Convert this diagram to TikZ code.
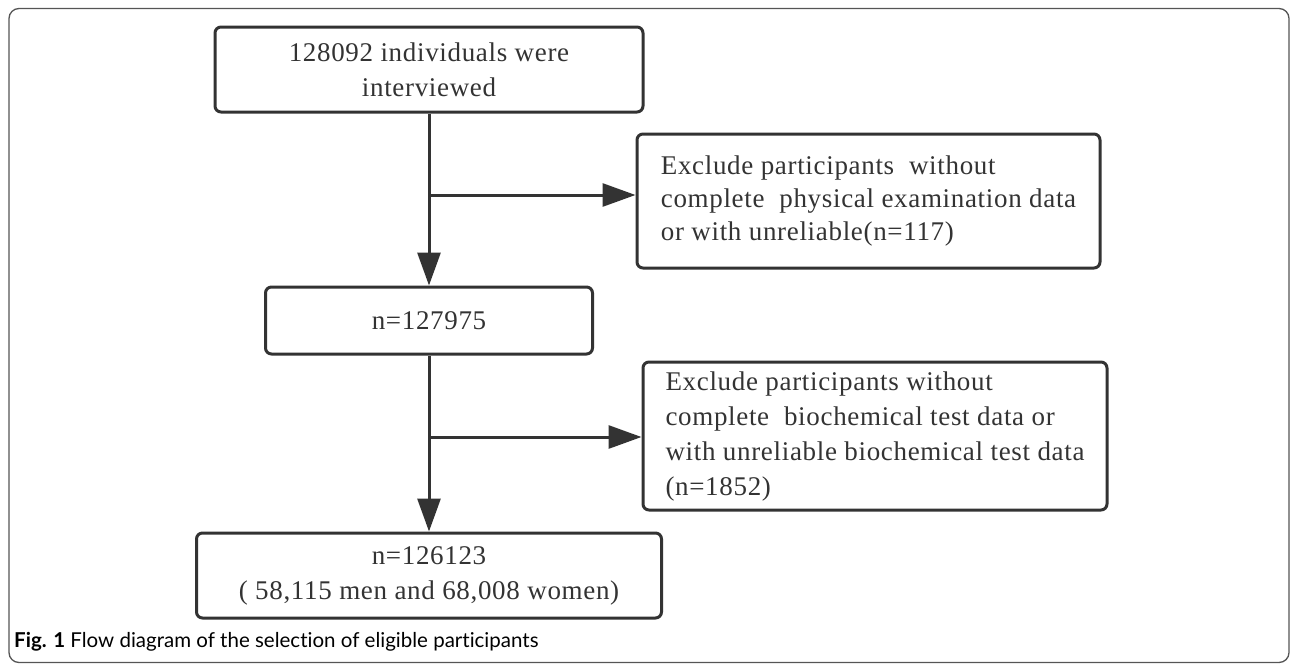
\documentclass[tikz,border=0pt]{standalone}
\usepackage{fontspec}
\setmainfont{Liberation Serif}
\newfontfamily\capfont[Ligatures=NoCommon]{Lato}
\usetikzlibrary{arrows.meta}
\definecolor{ink}{HTML}{333333}
\definecolor{framec}{HTML}{555555}
\begin{document}
\begin{tikzpicture}[x=1pt,y=-1pt,
  box/.style={draw=ink, line width=3pt, rounded corners=6pt, inner sep=0pt, text=ink,
    font=\fontsize{27}{35}\selectfont\addfontfeature{LetterSpace=2.5}},
  arr/.style={draw=ink, line width=3pt, -{Triangle[length=33pt,width=23pt]}}]
\useasboundingbox (0,0) rectangle (1290,664);
\draw[framec, line width=1.3pt, rounded corners=10pt] (9,8.5) rectangle (1289,662.5);
\node[box, minimum width=428pt, minimum height=85pt, align=center] (b1) at (429,69.5)
  {128092 individuals were\\interviewed};
\node[box, minimum width=327pt, minimum height=67pt, align=center] (b2) at (429,320.5)
  {n=127975};
\node[box, minimum width=463pt, minimum height=134pt, align=left,
  font=\fontsize{27}{33}\selectfont\addfontfeature{LetterSpace=2.5}] (b3) at (868.5,201)
  {Exclude participants\ \ without\\complete\ \ physical examination data\\or with unreliable(n=117)};
\node[box, minimum width=464pt, minimum height=148pt, align=left] (b4) at (875,436)
  {Exclude participants without\\complete\ \ biochemical test data or\\with unreliable biochemical test data\\(n=1852)};
\node[box, minimum width=465pt, minimum height=85pt, align=center] (b5) at (429,575.5)
  {n=126123\\(\ 58,115 men and 68,008 women)};
\coordinate (j1) at (429,195);
\coordinate (j2) at (429,437);
\draw[arr] (b1.south) -- (b2.north);
\draw[arr] (j1) -- (j1 -| b3.west);
\draw[arr] (b2.south) -- (b5.north);
\draw[arr] (j2) -- (j2 -| b4.west);
\node[anchor=base west, inner sep=0pt, font=\capfont\fontsize{20.5}{24}\selectfont, text=black] (cap) at (14,647)
  {\textbf{Fig. 1} Flow diagram of the selection of eligible participants};
\end{tikzpicture}
\end{document}
